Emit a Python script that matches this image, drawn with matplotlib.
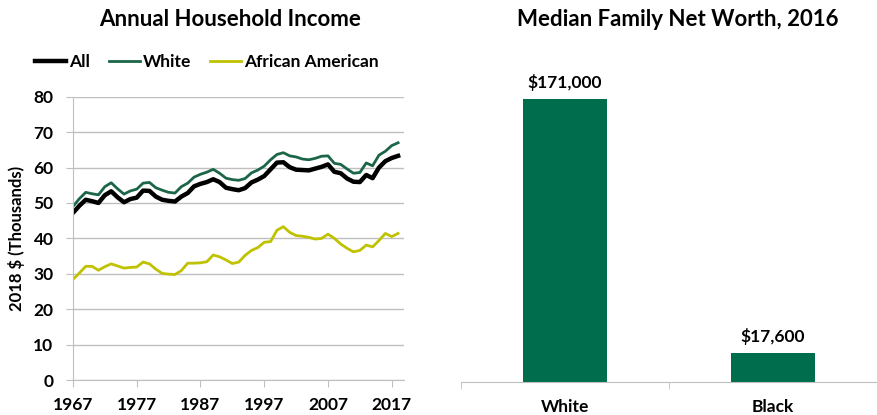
import matplotlib
matplotlib.use('Agg')
import matplotlib.pyplot as plt
from matplotlib.lines import Line2D

plt.rcParams['font.family'] = ['Lato', 'DejaVu Sans']
plt.rcParams['font.weight'] = 'bold'

# median household income, 2018 dollars (thousands)
years = list(range(1967, 2019))
income_all = [47.2, 49.2, 50.9, 50.5, 50.0, 52.2, 53.3, 51.6, 50.2, 51.1, 51.5, 53.5, 53.4, 51.8,
              50.9, 50.6, 50.4, 51.8, 52.8, 54.7, 55.4, 55.9, 56.7, 55.9, 54.3, 53.9, 53.6, 54.2,
              55.8, 56.6, 57.6, 59.5, 61.4, 61.5, 60.1, 59.4, 59.3, 59.2, 59.7, 60.2, 60.9, 58.8,
              58.4, 56.9, 56.0, 55.9, 57.9, 57.0, 60.0, 61.8, 62.7, 63.3]
income_white = [49.0, 51.2, 53.0, 52.6, 52.3, 54.6, 55.7, 54.0, 52.5, 53.4, 53.9, 55.6, 55.8, 54.3,
                53.6, 53.0, 52.8, 54.6, 55.6, 57.3, 58.1, 58.7, 59.5, 58.4, 57.0, 56.6, 56.4, 56.9,
                58.5, 59.3, 60.4, 62.2, 63.7, 64.2, 63.3, 63.0, 62.4, 62.2, 62.6, 63.2, 63.3, 61.2,
                60.9, 59.6, 58.4, 58.6, 61.3, 60.5, 63.5, 64.6, 66.2, 67.0]
income_black = [28.4, 30.2, 32.1, 32.1, 31.0, 32.0, 32.8, 32.2, 31.6, 31.8, 31.9, 33.3, 32.8, 31.3,
                30.1, 29.9, 29.8, 30.9, 33.0, 33.0, 33.1, 33.4, 35.3, 34.8, 33.9, 32.9, 33.3, 35.2,
                36.6, 37.4, 38.9, 39.1, 42.3, 43.3, 41.7, 40.8, 40.6, 40.3, 39.8, 40.0, 41.2, 40.0,
                38.4, 37.2, 36.2, 36.6, 38.1, 37.6, 39.4, 41.4, 40.5, 41.4]
year_ticks = [1967, 1977, 1987, 1997, 2007, 2017]

# median family net worth, 2016
groups = ['White', 'Black']
net_worth = [171000, 17600]
net_worth_labels = ['$171,000', '$17,600']

green = '#006E4C'
dark_green = '#1C6648'
yellow = '#BFC200'
grid_gray = '#BFBFBF'

fig = plt.figure(figsize=(8.77, 4.15), dpi=100)

# left: income lines
ax = fig.add_axes([0.0832, 0.0843, 0.378, 0.6826])
ax.plot(years, income_black, color=yellow, lw=2.0)
ax.plot(years, income_white, color=dark_green, lw=2.0)
ax.plot(years, income_all, color='black', lw=3.2)
ax.set_xlim(1967, 2019)
ax.set_ylim(0, 80)
ax.set_yticks(range(0, 81, 10))
ax.set_xticks(year_ticks)
ax.grid(axis='y', color=grid_gray, lw=1.0)
ax.set_axisbelow(True)
for s in ['top', 'right']:
    ax.spines[s].set_visible(False)
ax.spines['left'].set_color(grid_gray)
ax.spines['bottom'].set_color(grid_gray)
ax.tick_params(axis='y', length=5, color=grid_gray, labelsize=12.5, pad=9)
ax.tick_params(axis='x', length=5, color=grid_gray, labelsize=12.5, pad=7)
for lab in ax.get_xticklabels() + ax.get_yticklabels():
    lab.set_fontweight('bold')
ax.set_ylabel('2018 $ (Thousands)', fontsize=12, fontweight='bold', labelpad=6)

handles = [Line2D([], [], color='black', lw=3.2),
           Line2D([], [], color=dark_green, lw=2.0),
           Line2D([], [], color=yellow, lw=2.0)]
fig.legend(handles, ['All', 'White', 'African American'], loc='center left',
           bbox_to_anchor=(0.04, 0.851), ncol=3, frameon=False,
           handlelength=1.8, handletextpad=0.15, columnspacing=1.1, borderpad=0,
           borderaxespad=0, prop={'weight': 'bold', 'size': 12.5})

fig.text(0.262, 0.952, 'Annual Household Income', ha='center', va='center',
         fontsize=16, fontweight='bold')

# right: net worth bars
bx = fig.add_axes([0.5257, 0.0795, 0.4743, 0.6874])
x = range(len(groups))
bars = bx.bar(x, net_worth, width=0.4, color=green)
bx.set_xlim(-0.5, 1.5)
bx.set_ylim(0, 172600)
for b, lab in zip(bars, net_worth_labels):
    bx.annotate(lab, (b.get_x() + b.get_width() / 2, b.get_height()),
                xytext=(0, 6), textcoords='offset points', ha='center', va='bottom',
                fontsize=12.5, fontweight='bold')
bx.set_xticks(list(x))
bx.set_xticklabels(groups, fontsize=12.5, fontweight='bold')
bx.set_xticks([-0.5, 0.5, 1.5], minor=True)
bx.tick_params(axis='x', which='major', length=0, pad=12)
bx.tick_params(axis='x', which='minor', length=5, color=grid_gray)
bx.set_yticks([])
for s in ['top', 'right', 'left']:
    bx.spines[s].set_visible(False)
bx.spines['bottom'].set_color(grid_gray)

fig.text(0.773, 0.952, 'Median Family Net Worth, 2016', ha='center', va='center',
         fontsize=16, fontweight='bold')

fig.savefig('out.png', dpi=100)
